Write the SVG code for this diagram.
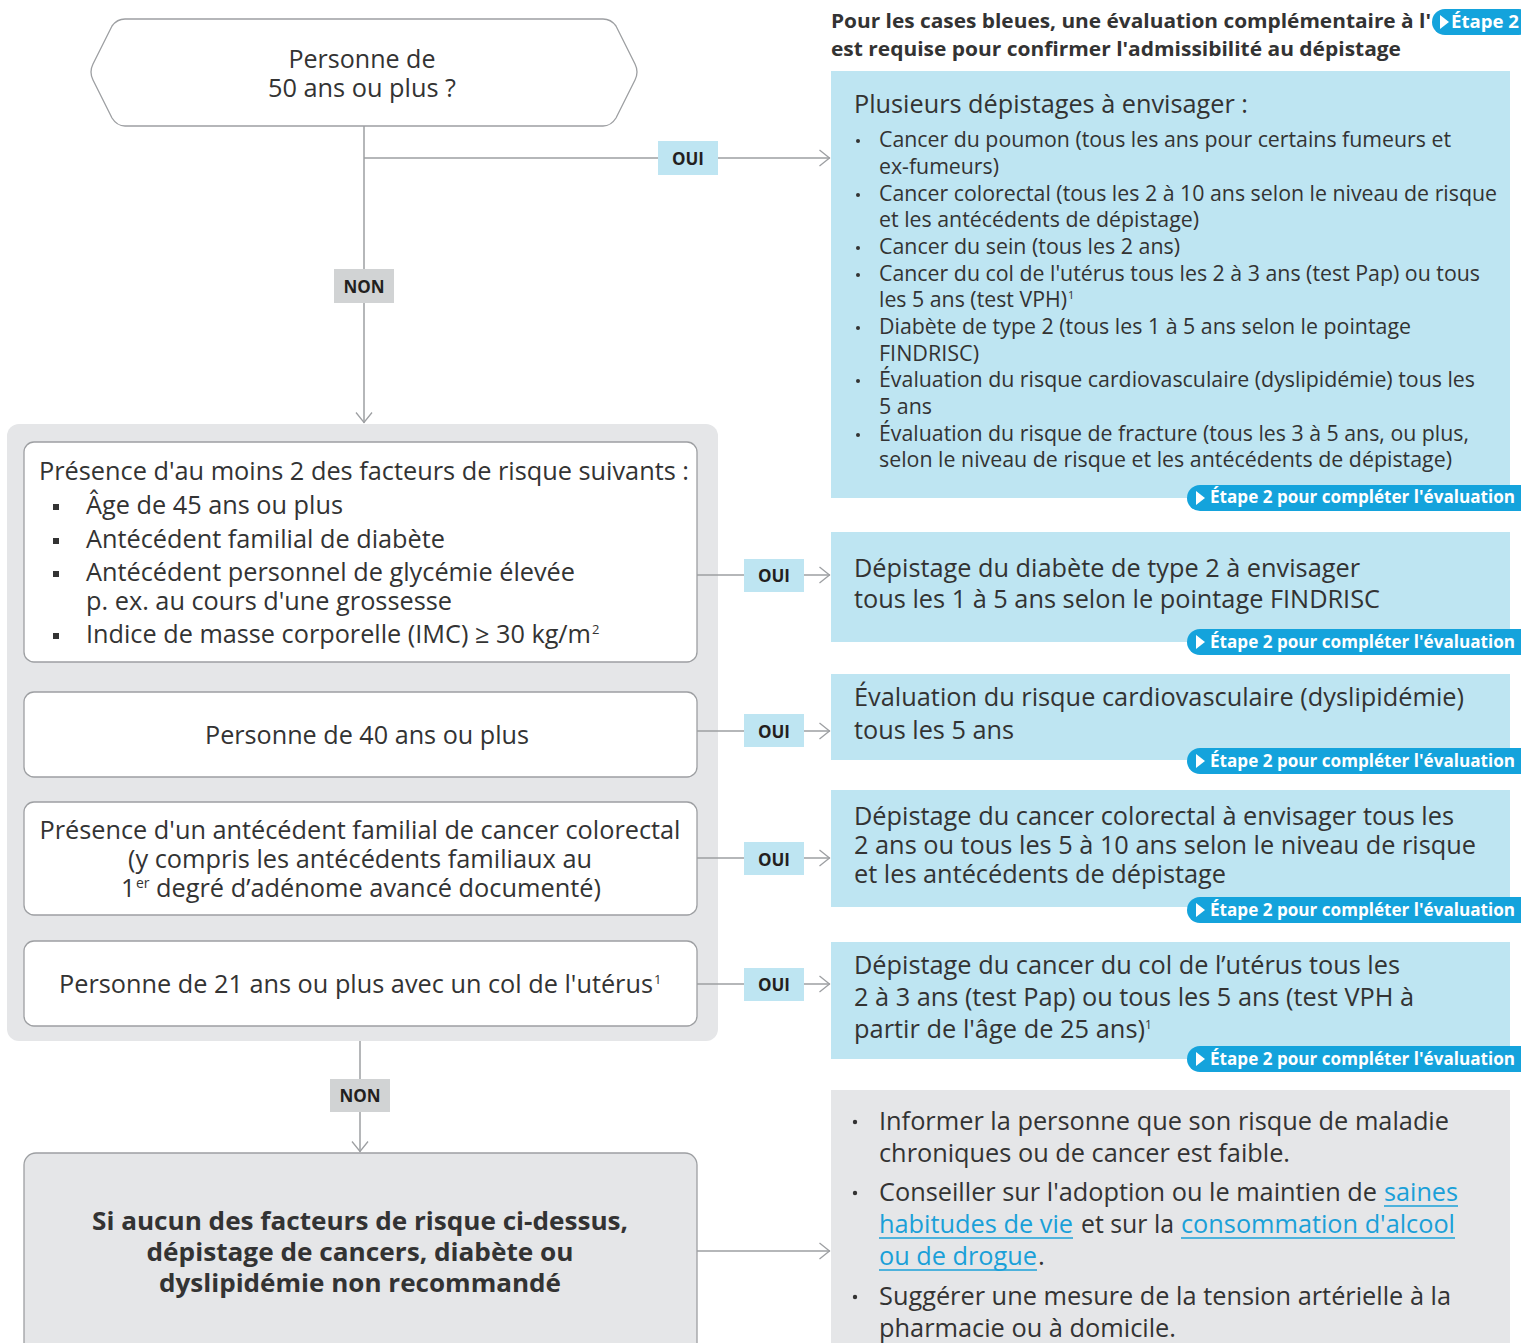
<svg xmlns="http://www.w3.org/2000/svg" width="1521" height="1343" viewBox="0 0 1521 1343">
<defs>
<style>
.t{font-family:"Open Sans","Liberation Sans",sans-serif;fill:#333333;}
.b{font-weight:bold;}
.box{fill:#ffffff;stroke:#9d9fa2;stroke-width:1.3;}
.blue{fill:#bee5f2;}
.grey{fill:#e5e6e8;}
.conn{stroke:#9d9fa2;stroke-width:1.5;fill:none;}
.oui{fill:#bee5f2;}
.non{fill:#d1d3d4;}
.lab{font-family:"Open Sans","Liberation Sans",sans-serif;font-weight:bold;font-size:17px;fill:#231f20;text-anchor:middle;}
.badge{fill:#14a3dc;}
.bt{font-family:"Open Sans","Liberation Sans",sans-serif;font-weight:bold;font-size:17px;fill:#ffffff;}
.link{fill:#1aa0d8;}
.ul{stroke:#1aa0d8;stroke-width:1.3;}
.m{font-size:25px;}
.s{font-size:21px;}
.l{font-size:26px;}
</style>
<marker id="arr" viewBox="0 0 12 18" refX="11.5" refY="9" markerWidth="12" markerHeight="18" markerUnits="userSpaceOnUse" orient="auto">
<path d="M1,1 L11,9 L1,17" fill="none" stroke="#9d9fa2" stroke-width="1.3"/>
</marker>
<g id="badgeShape">
<rect x="0" y="0" width="360" height="26" rx="13" class="badge"/>
<path d="M9,6 L18,13 L9,20 Z" fill="#ffffff"/>
</g>
</defs>
<rect width="1521" height="1343" fill="#ffffff"/>

<!-- container -->
<g id="risk-group">
<rect x="7" y="424" width="711" height="617" rx="12" class="grey"/>
</g>

<!-- connectors -->
<g id="connectors">
<line x1="364" y1="126" x2="364" y2="423" class="conn" marker-end="url(#arr)"/>
<line x1="364" y1="158" x2="830" y2="158" class="conn" marker-end="url(#arr)"/>
<line x1="697" y1="575" x2="830" y2="575" class="conn" marker-end="url(#arr)"/>
<line x1="697" y1="731" x2="830" y2="731" class="conn" marker-end="url(#arr)"/>
<line x1="697" y1="858" x2="830" y2="858" class="conn" marker-end="url(#arr)"/>
<line x1="697" y1="984" x2="830" y2="984" class="conn" marker-end="url(#arr)"/>
<line x1="360" y1="1041" x2="360" y2="1152" class="conn" marker-end="url(#arr)"/>
<line x1="697" y1="1251" x2="830" y2="1251" class="conn" marker-end="url(#arr)"/>
<rect x="658" y="141" width="60" height="34" class="oui"/><text x="688" y="165" class="lab">OUI</text>
<rect x="334" y="269" width="60" height="34" class="non"/><text x="364" y="293" class="lab">NON</text>
<rect x="744" y="559" width="60" height="33" class="oui"/><text x="774" y="582" class="lab">OUI</text>
<rect x="744" y="714" width="60" height="33" class="oui"/><text x="774" y="738" class="lab">OUI</text>
<rect x="744" y="842" width="60" height="33" class="oui"/><text x="774" y="866" class="lab">OUI</text>
<rect x="744" y="968" width="60" height="33" class="oui"/><text x="774" y="991" class="lab">OUI</text>
<rect x="330" y="1079" width="60" height="33" class="non"/><text x="360" y="1102" class="lab">NON</text>
</g>

<!-- start hexagon -->
<g id="start">
<path d="M125,19 L603,19 Q611,19 616,26 L635,64 Q639,72 635,80 L616,118 Q611,126 603,126 L125,126 Q117,126 112,118 L93,80 Q89,72 93,64 L112,26 Q117,19 125,19 Z" class="box"/>
<text x="362" y="68" class="t m" text-anchor="middle" textLength="147" lengthAdjust="spacingAndGlyphs">Personne de</text>
<text x="362" y="97" class="t m" text-anchor="middle" textLength="188" lengthAdjust="spacingAndGlyphs">50 ans ou plus ?</text>
</g>

<!-- header note -->
<g id="header-note">
<text x="831" y="28" class="t b" font-size="19" textLength="600" lengthAdjust="spacingAndGlyphs">Pour les cases bleues, une évaluation complémentaire à l'</text>
<rect x="1432" y="9" width="100" height="26" rx="13" class="badge"/>
<path d="M1440,15 L1449,22 L1440,29 Z" fill="#ffffff"/>
<text x="1451" y="28" class="bt" textLength="68" lengthAdjust="spacingAndGlyphs">Étape 2</text>
<text x="831" y="56" class="t b" font-size="19" textLength="570" lengthAdjust="spacingAndGlyphs">est requise pour confirmer l'admissibilité au dépistage</text>
</g>

<!-- box 1 -->
<g id="risk-factors">
<rect x="24" y="442" width="673" height="220" rx="10" class="box"/>
<text x="39" y="480" class="t m" textLength="650" lengthAdjust="spacingAndGlyphs">Présence d'au moins 2 des facteurs de risque suivants :</text>
<rect x="53" y="504" width="6" height="6" fill="#333333"/>
<rect x="53" y="538" width="6" height="6" fill="#333333"/>
<rect x="53" y="571" width="6" height="6" fill="#333333"/>
<rect x="53" y="633" width="6" height="6" fill="#333333"/>
<text x="86" y="514" class="t m" textLength="257" lengthAdjust="spacingAndGlyphs">Âge de 45 ans ou plus</text>
<text x="86" y="548" class="t m" textLength="359" lengthAdjust="spacingAndGlyphs">Antécédent familial de diabète</text>
<text x="86" y="581" class="t m" textLength="489" lengthAdjust="spacingAndGlyphs">Antécédent personnel de glycémie élevée</text>
<text x="86" y="610" class="t m" textLength="366" lengthAdjust="spacingAndGlyphs">p. ex. au cours d'une grossesse</text>
<text x="86" y="643" class="t m" textLength="505" lengthAdjust="spacingAndGlyphs">Indice de masse corporelle (IMC) ≥ 30 kg/m</text>
<text x="592" y="634" class="t" font-size="13">2</text>
</g>

<!-- box 2 -->
<g id="age40">
<rect x="24" y="692" width="673" height="85" rx="10" class="box"/>
<text x="367" y="744" class="t m" text-anchor="middle" textLength="324" lengthAdjust="spacingAndGlyphs">Personne de 40 ans ou plus</text>
</g>

<!-- box 3 -->
<g id="colorectal-history">
<rect x="24" y="802" width="673" height="113" rx="10" class="box"/>
<text x="360" y="839" class="t m" text-anchor="middle" textLength="641" lengthAdjust="spacingAndGlyphs">Présence d'un antécédent familial de cancer colorectal</text>
<text x="360" y="868" class="t m" text-anchor="middle" textLength="464" lengthAdjust="spacingAndGlyphs">(y compris les antécédents familiaux au</text>
<text x="121" y="897" class="t m">1</text>
<text x="136" y="888" class="t" font-size="14">er</text>
<text x="156" y="897" class="t m" textLength="445" lengthAdjust="spacingAndGlyphs">degré d’adénome avancé documenté)</text>
</g>

<!-- box 4 -->
<g id="cervix">
<rect x="24" y="941" width="673" height="85" rx="10" class="box"/>
<text x="59" y="993" class="t m" textLength="594" lengthAdjust="spacingAndGlyphs">Personne de 21 ans ou plus avec un col de l'utérus</text>
<text x="654" y="984" class="t" font-size="13">1</text>
</g>

<!-- no risk box -->
<g id="no-risk">
<rect x="24" y="1153" width="673" height="205" rx="12" class="grey" stroke="#9d9fa2" stroke-width="1.3"/>
<text x="360" y="1230" class="t b m" text-anchor="middle" textLength="536" lengthAdjust="spacingAndGlyphs">Si aucun des facteurs de risque ci-dessus,</text>
<text x="360" y="1261" class="t b m" text-anchor="middle" textLength="427" lengthAdjust="spacingAndGlyphs">dépistage de cancers, diabète ou</text>
<text x="360" y="1292" class="t b m" text-anchor="middle" textLength="402" lengthAdjust="spacingAndGlyphs">dyslipidémie non recommandé</text>
</g>

<!-- right A -->
<g id="multi-screening">
<rect x="831" y="71" width="679" height="427" class="blue"/>
<text x="854" y="113" class="t m" textLength="394" lengthAdjust="spacingAndGlyphs">Plusieurs dépistages à envisager :</text>
<g class="t s">
<circle cx="858" cy="141" r="2" fill="#333333"/>
<circle cx="858" cy="195" r="2" fill="#333333"/>
<circle cx="858" cy="248" r="2" fill="#333333"/>
<circle cx="858" cy="275" r="2" fill="#333333"/>
<circle cx="858" cy="328" r="2" fill="#333333"/>
<circle cx="858" cy="381" r="2" fill="#333333"/>
<circle cx="858" cy="435" r="2" fill="#333333"/>
<text x="879" y="147" textLength="572" lengthAdjust="spacingAndGlyphs">Cancer du poumon (tous les ans pour certains fumeurs et</text>
<text x="879" y="174" textLength="120" lengthAdjust="spacingAndGlyphs">ex-fumeurs)</text>
<text x="879" y="201" textLength="618" lengthAdjust="spacingAndGlyphs">Cancer colorectal (tous les 2 à 10 ans selon le niveau de risque</text>
<text x="879" y="227" textLength="320" lengthAdjust="spacingAndGlyphs">et les antécédents de dépistage)</text>
<text x="879" y="254" textLength="301" lengthAdjust="spacingAndGlyphs">Cancer du sein (tous les 2 ans)</text>
<text x="879" y="281" textLength="601" lengthAdjust="spacingAndGlyphs">Cancer du col de l'utérus tous les 2 à 3 ans (test Pap) ou tous</text>
<text x="879" y="307" textLength="188" lengthAdjust="spacingAndGlyphs">les 5 ans (test VPH)</text>
<text x="1068" y="299" font-size="11">1</text>
<text x="879" y="334" textLength="532" lengthAdjust="spacingAndGlyphs">Diabète de type 2 (tous les 1 à 5 ans selon le pointage</text>
<text x="879" y="361" textLength="100" lengthAdjust="spacingAndGlyphs">FINDRISC)</text>
<text x="879" y="387" textLength="596" lengthAdjust="spacingAndGlyphs">Évaluation du risque cardiovasculaire (dyslipidémie) tous les</text>
<text x="879" y="414" textLength="53" lengthAdjust="spacingAndGlyphs">5 ans</text>
<text x="879" y="441" textLength="590" lengthAdjust="spacingAndGlyphs">Évaluation du risque de fracture (tous les 3 à 5 ans, ou plus,</text>
<text x="879" y="467" textLength="573" lengthAdjust="spacingAndGlyphs">selon le niveau de risque et les antécédents de dépistage)</text>
</g>
<use href="#badgeShape" x="1187" y="485"/>
<text x="1210" y="503" class="bt" textLength="305" lengthAdjust="spacingAndGlyphs">Étape 2 pour compléter l'évaluation</text>
</g>

<!-- right B -->
<g id="diabetes">
<rect x="831" y="532" width="679" height="110" class="blue"/>
<text x="854" y="577" class="t m" textLength="506" lengthAdjust="spacingAndGlyphs">Dépistage du diabète de type 2 à envisager</text>
<text x="854" y="608" class="t m" textLength="526" lengthAdjust="spacingAndGlyphs">tous les 1 à 5 ans selon le pointage FINDRISC</text>
<use href="#badgeShape" x="1187" y="629"/>
<text x="1210" y="648" class="bt" textLength="305" lengthAdjust="spacingAndGlyphs">Étape 2 pour compléter l'évaluation</text>
</g>

<!-- right C -->
<g id="cardio">
<rect x="831" y="674" width="679" height="86" class="blue"/>
<text x="854" y="706" class="t m" textLength="610" lengthAdjust="spacingAndGlyphs">Évaluation du risque cardiovasculaire (dyslipidémie)</text>
<text x="854" y="739" class="t m" textLength="160" lengthAdjust="spacingAndGlyphs">tous les 5 ans</text>
<use href="#badgeShape" x="1187" y="748"/>
<text x="1210" y="767" class="bt" textLength="305" lengthAdjust="spacingAndGlyphs">Étape 2 pour compléter l'évaluation</text>
</g>

<!-- right D -->
<g id="colorectal">
<rect x="831" y="790" width="679" height="117" class="blue"/>
<text x="854" y="825" class="t m" textLength="600" lengthAdjust="spacingAndGlyphs">Dépistage du cancer colorectal à envisager tous les</text>
<text x="854" y="854" class="t m" textLength="622" lengthAdjust="spacingAndGlyphs">2 ans ou tous les 5 à 10 ans selon le niveau de risque</text>
<text x="854" y="883" class="t m" textLength="372" lengthAdjust="spacingAndGlyphs">et les antécédents de dépistage</text>
<use href="#badgeShape" x="1187" y="897"/>
<text x="1210" y="916" class="bt" textLength="305" lengthAdjust="spacingAndGlyphs">Étape 2 pour compléter l'évaluation</text>
</g>

<!-- right E -->
<g id="cervical">
<rect x="831" y="942" width="679" height="117" class="blue"/>
<text x="854" y="974" class="t m" textLength="546" lengthAdjust="spacingAndGlyphs">Dépistage du cancer du col de l’utérus tous les</text>
<text x="854" y="1006" class="t m" textLength="560" lengthAdjust="spacingAndGlyphs">2 à 3 ans (test Pap) ou tous les 5 ans (test VPH à</text>
<text x="854" y="1038" class="t m" textLength="291" lengthAdjust="spacingAndGlyphs">partir de l'âge de 25 ans)</text>
<text x="1145" y="1029" class="t" font-size="12">1</text>
<use href="#badgeShape" x="1187" y="1046"/>
<text x="1210" y="1065" class="bt" textLength="305" lengthAdjust="spacingAndGlyphs">Étape 2 pour compléter l'évaluation</text>
</g>

<!-- right F -->
<g id="advice">
<rect x="831" y="1090" width="679" height="270" class="grey"/>
<g class="t l">
<circle cx="855" cy="1122" r="2.2" fill="#333333"/>
<circle cx="855" cy="1193" r="2.2" fill="#333333"/>
<circle cx="855" cy="1297" r="2.2" fill="#333333"/>
<text x="879" y="1130" textLength="570" lengthAdjust="spacingAndGlyphs">Informer la personne que son risque de maladie</text>
<text x="879" y="1162" textLength="411" lengthAdjust="spacingAndGlyphs">chroniques ou de cancer est faible.</text>
<text x="879" y="1201" textLength="498" lengthAdjust="spacingAndGlyphs">Conseiller sur l'adoption ou le maintien de</text>
<text x="1384" y="1201" class="link" textLength="74" lengthAdjust="spacingAndGlyphs">saines</text>
<text x="879" y="1233" class="link" textLength="194" lengthAdjust="spacingAndGlyphs">habitudes de vie</text>
<text x="1081" y="1233" textLength="93" lengthAdjust="spacingAndGlyphs">et sur la</text>
<text x="1181" y="1233" class="link" textLength="274" lengthAdjust="spacingAndGlyphs">consommation d'alcool</text>
<text x="879" y="1265" class="link" textLength="158" lengthAdjust="spacingAndGlyphs">ou de drogue</text>
<text x="1038" y="1265">.</text>
<text x="879" y="1305" textLength="572" lengthAdjust="spacingAndGlyphs">Suggérer une mesure de la tension artérielle à la</text>
<text x="879" y="1337" textLength="297" lengthAdjust="spacingAndGlyphs">pharmacie ou à domicile.</text>
</g>
<line x1="1384" y1="1206" x2="1458" y2="1206" class="ul"/>
<line x1="879" y1="1238" x2="1073" y2="1238" class="ul"/>
<line x1="1181" y1="1238" x2="1455" y2="1238" class="ul"/>
<line x1="879" y1="1270" x2="1037" y2="1270" class="ul"/>
</g>
</svg>
